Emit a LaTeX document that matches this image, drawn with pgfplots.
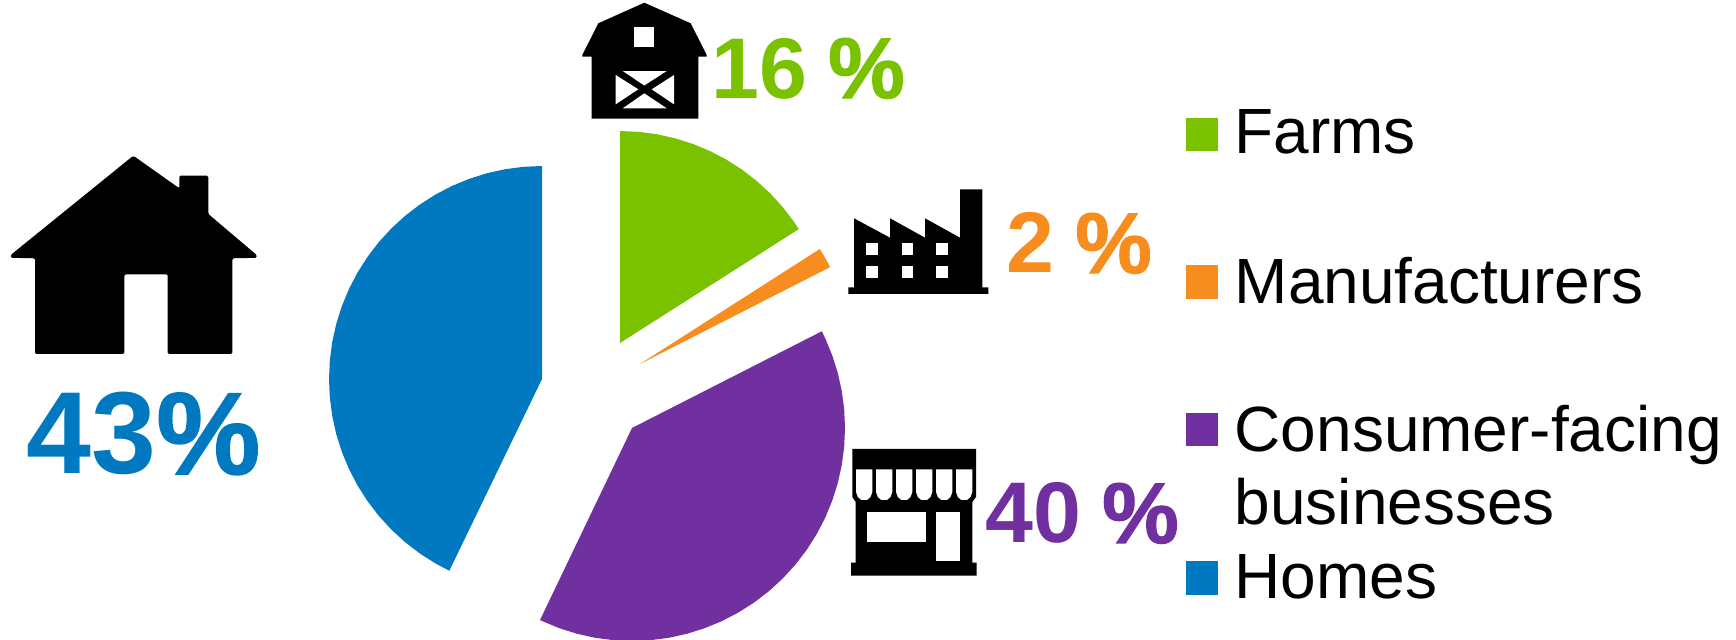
\documentclass[border=0pt]{standalone}
\usepackage{pgfplots}
\pgfplotsset{compat=1.18}
\usepackage{fontspec}
\setmainfont{Liberation Sans}
\newfontfamily\pctfont[FakeBold=1.4]{Liberation Sans Bold}
\definecolor{farmsc}{HTML}{7AC200}
\definecolor{manufc}{HTML}{F78D1F}
\definecolor{consumc}{HTML}{7030A0}
\definecolor{homesc}{HTML}{0079C1}
\newcommand{\bigpct}{\fontsize{33.2}{36}\selectfont\bfseries}
\newcommand{\midpct}{\fontsize{24.5}{28}\selectfont\bfseries}
\newcommand{\legtxt}{\fontsize{18.2}{20}\selectfont}
\newcommand{\pct}{{\pctfont\%}}
\begin{document}
\begin{tikzpicture}
\begin{axis}[
  scale only axis, width=173.6mm, height=64mm,
  xmin=0, xmax=1736, ymin=0, ymax=640, y dir=reverse,
  hide axis, clip=true,
  every axis plot/.append style={draw=none},
]
% Pie wedges: exploded slices, angle and radius about each slice's own apex
\addplot[fill=farmsc, data cs=polar, shift={(axis direction cs:620,343)}] coordinates {
  (0,0) (-90,212) (-85,212) (-80,212) (-75,212) (-70,212) (-65,212) (-60,212)
  (-55,212) (-50,212) (-45,212) (-40,212) (-35,212) (-32.5,212)} -- cycle;
\addplot[fill=manufc, data cs=polar, shift={(axis direction cs:640,364)}] coordinates {
  (0,0) (-32.6,213.4) (-30,213.4) (-27,213.4)} -- cycle;
\addplot[fill=consumc, data cs=polar, shift={(axis direction cs:632,428)}] coordinates {
  (0,0) (-27,213) (-25,213) (-20,213) (-15,213) (-10,213) (-5,213) (0,213) (5,213)
  (10,213) (15,213) (20,213) (25,213) (30,213) (35,213) (40,213) (45,213) (50,213)
  (55,213) (60,213) (65,213) (70,213) (75,213) (80,213) (85,213) (90,213) (95,213)
  (100,213) (105,213) (110,213) (115.6,213)} -- cycle;
\addplot[fill=homesc, data cs=polar, shift={(axis direction cs:542,379)}] coordinates {
  (0,0) (-90,213) (-95,213) (-100,213) (-105,213) (-110,213) (-115,213) (-120,213)
  (-125,213) (-130,213) (-135,213) (-140,213) (-145,213) (-150,213) (-155,213)
  (-160,213) (-165,213) (-170,213) (-175,213) (-180,213) (-185,213) (-190,213)
  (-195,213) (-200,213) (-205,213) (-210,213) (-215,213) (-220,213) (-225,213)
  (-230,213) (-235,213) (-240,213) (-244.2,213)} -- cycle;

% House icon
\addplot[fill=black, rounded corners=0.4pt] coordinates {
  (133.3,155.7) (179.3,188.3) (179.3,175.7) (208.3,175.7) (208.3,214)
  (256.7,255) (256.7,257.8) (232.3,258.3) (232.3,354) (167.7,354) (167.7,274.3)
  (124.3,274.3) (124.3,354) (35,354) (35,258.3) (10.7,257.8) (10.7,255)} -- cycle;

% Barn icon
\addplot[fill=black] coordinates {
  (644.3,2.7) (690.7,23.3) (706.7,55) (706.7,56.7) (698.3,56.7) (698.3,118.7)
  (591.7,118.7) (591.7,56.7) (582.3,56.7) (582.3,55) (598.3,23.3)} -- cycle;
\addplot[fill=white] coordinates {(634.3,27.3) (654.3,27.3) (654.3,46.7) (634.3,46.7)} -- cycle;
\addplot[fill=white] coordinates {(622.7,71) (666.7,71) (644.3,85.5)} -- cycle;
\addplot[fill=white] coordinates {(622.7,108.3) (666.7,108.3) (644.3,93.3)} -- cycle;
\addplot[fill=white] coordinates {(615.7,75) (615.7,104.3) (638.3,89.3)} -- cycle;
\addplot[fill=white] coordinates {(674,75) (674,104.3) (651.7,89.3)} -- cycle;

% Factory icon
\addplot[fill=black] coordinates {
  (854,287.3) (854,218.3) (890,237.7) (890,218.3) (925,237.7) (925,218.3)
  (960,237.7) (960,189.3) (982.3,189.3) (982.3,287.3) (988.3,287.3) (988.3,294)
  (848.3,294) (848.3,287.3)} -- cycle;
\addplot[fill=white] coordinates {(866,243.3) (878.3,243.3) (878.3,255) (866,255)} -- cycle;
\addplot[fill=white] coordinates {(901.7,243.3) (912.7,243.3) (912.7,255) (901.7,255)} -- cycle;
\addplot[fill=white] coordinates {(936,243.3) (947.7,243.3) (947.7,255) (936,255)} -- cycle;
\addplot[fill=white] coordinates {(866,266) (878.3,266) (878.3,277.7) (866,277.7)} -- cycle;
\addplot[fill=white] coordinates {(901.7,266) (912.7,266) (912.7,277.7) (901.7,277.7)} -- cycle;
\addplot[fill=white] coordinates {(936,266) (947.7,266) (947.7,277.7) (936,277.7)} -- cycle;

% Shop icon: roof, awning, walls and step
\addplot[fill=black] coordinates {
  (852.3,449) (976,449) (976,497) (972.3,502) (972.3,562.7) (976.7,562.7) (976.7,575.7)
  (851,575.7) (851,562.7) (855.7,562.7) (855.7,502) (852.3,497)} -- cycle;
\addplot[fill=white] coordinates {(856,469.5) (872.3,469.5) (872.3,492) (870.5,497) (867,500) (861.3,500) (857.8,497) (856,492)} -- cycle;
\addplot[fill=white] coordinates {(876,469.5) (892.3,469.5) (892.3,492) (890.5,497) (887,500) (881.3,500) (877.8,497) (876,492)} -- cycle;
\addplot[fill=white] coordinates {(896,469.5) (912.3,469.5) (912.3,492) (910.5,497) (907,500) (901.3,500) (897.8,497) (896,492)} -- cycle;
\addplot[fill=white] coordinates {(916,469.5) (932.3,469.5) (932.3,492) (930.5,497) (927,500) (921.3,500) (917.8,497) (916,492)} -- cycle;
\addplot[fill=white] coordinates {(936,469.5) (952.3,469.5) (952.3,492) (950.5,497) (947,500) (941.3,500) (937.8,497) (936,492)} -- cycle;
\addplot[fill=white] coordinates {(956,469.5) (972.3,469.5) (972.3,492) (970.5,497) (967,500) (961.3,500) (957.8,497) (956,492)} -- cycle;
\addplot[fill=white] coordinates {(866.7,512.3) (925.7,512.3) (925.7,542.3) (866.7,542.3)} -- cycle;
\addplot[fill=white] coordinates {(935.7,512.3) (960,512.3) (960,560.7) (935.7,560.7)} -- cycle;

% Legend swatches
\addplot[fill=farmsc] coordinates {(1186,118) (1218,118) (1218,151) (1186,151)} -- cycle;
\addplot[fill=manufc] coordinates {(1186,265) (1218,265) (1218,299) (1186,299)} -- cycle;
\addplot[fill=consumc] coordinates {(1186,413) (1218,413) (1218,446) (1186,446)} -- cycle;
\addplot[fill=homesc] coordinates {(1186,561) (1218,561) (1218,595) (1186,595)} -- cycle;

% Share labels
\node[anchor=base west, inner sep=0pt, text=homesc] at (axis cs:26,474) {\bigpct 43\pct};
\node[anchor=base west, inner sep=0pt, text=farmsc] at (axis cs:711,98) {\midpct 16\hspace{0.24em}\pct};
\node[anchor=base west, inner sep=0pt, text=manufc] at (axis cs:1006,273) {\midpct 2\hspace{0.24em}\pct};
\node[anchor=base west, inner sep=0pt, text=consumc] at (axis cs:985,543) {\midpct 40\hspace{0.24em}\pct};

% Legend text
\node[anchor=base west, inner sep=0pt] at (axis cs:1234,154) {\legtxt Farms};
\node[anchor=base west, inner sep=0pt] at (axis cs:1234,304) {\legtxt Manufacturers};
\node[anchor=base west, inner sep=0pt] at (axis cs:1234,452) {\legtxt Consumer-facing};
\node[anchor=base west, inner sep=0pt] at (axis cs:1234,525) {\legtxt businesses};
\node[anchor=base west, inner sep=0pt] at (axis cs:1234,599) {\legtxt Homes};
\end{axis}
% Page extent is the full plotting area
\path[use as bounding box] (current axis.south west) rectangle (current axis.north east);
\end{tikzpicture}
\end{document}
